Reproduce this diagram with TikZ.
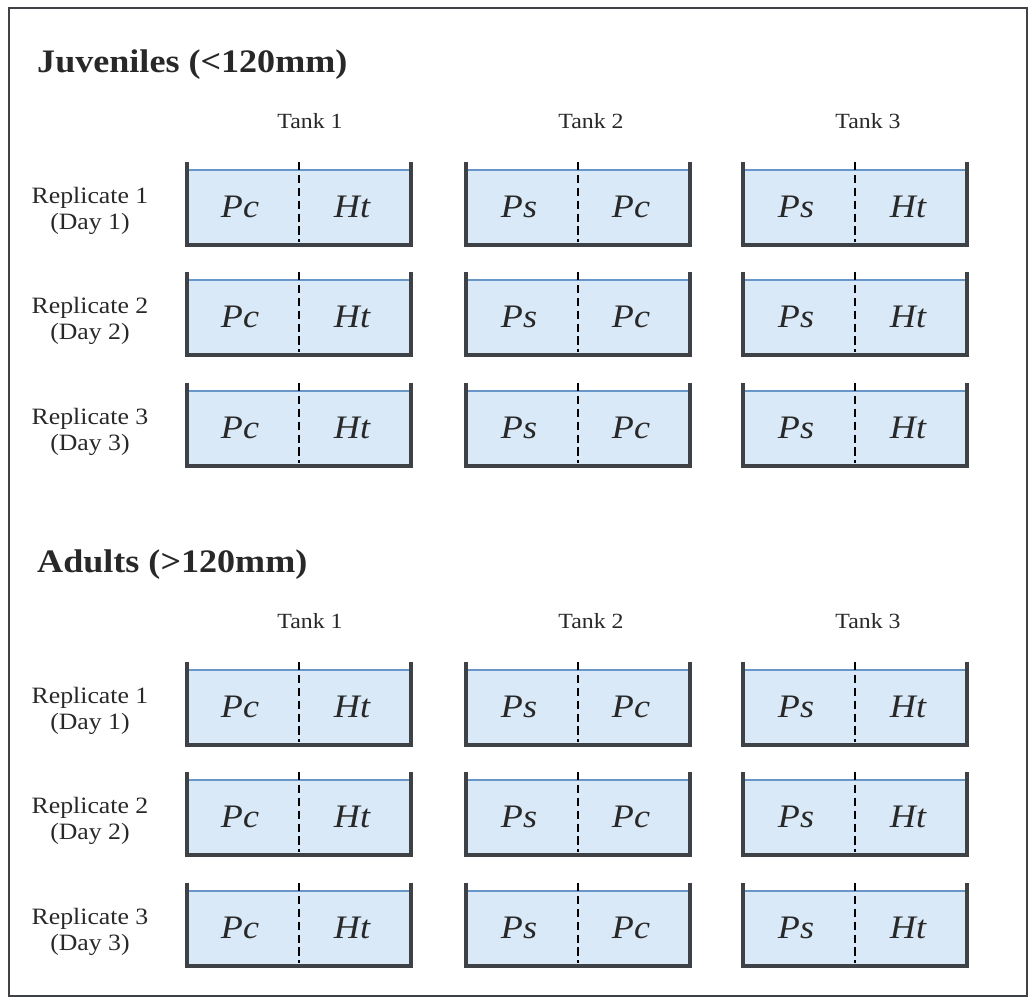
\documentclass[tikz,border=0pt]{standalone}
\usepackage{fontspec}
\setmainfont[FakeStretch=1.1]{Liberation Serif}
\usepackage{tikz}
\usetikzlibrary{positioning,calc}
\definecolor{waterblue}{RGB}{218,233,247}
\definecolor{surfaceblue}{RGB}{105,150,200}
\definecolor{wallgray}{RGB}{62,66,70}
\definecolor{inkgray}{RGB}{40,40,40}

\tikzset{
  grouptitle/.style={anchor=base west, inner sep=0pt, text=inkgray, font=\bfseries\fontsize{28}{30}\selectfont},
  tankhead/.style={anchor=base, inner sep=0pt, text=inkgray, font=\fontsize{18.5}{20}\selectfont},
  replab/.style={align=center, inner sep=0pt, text=inkgray, font=\fontsize{20}{22}\selectfont},
  water/.style={anchor=north west, fill=waterblue, minimum width=6.72cm, minimum height=2.25cm, inner sep=0pt, outer sep=0pt},
  surface/.style={draw=surfaceblue, line width=1pt},
  wall/.style={draw=wallgray, line width=3pt},
  divider/.style={draw=black, line width=1.4pt, dash pattern=on 7pt off 4pt},
  fishlab/.style={anchor=base, inner sep=0pt, text=inkgray, font=\itshape\fontsize{28}{30}\selectfont}
}

\begin{document}
\begin{tikzpicture}[x=0.03cm, y=-0.03cm]
  \useasboundingbox (0,0) rectangle (1030,999);
  \draw[draw=wallgray, line width=2.5pt] (9,8) rectangle (1027,996);

  \foreach \grp/\dy/\ttl in {juv/0/{Juveniles (<120mm)}, adu/500/{Adults (>120mm)}} {
    \node[grouptitle] (\grp-title) at (37,72+\dy) {\ttl};
    \foreach \k/\hx in {1/310, 2/591, 3/868}
      \node[tankhead] (\grp-head\k) at (\hx,128+\dy) {Tank \k};
    \foreach \r/\top in {1/162, 2/272, 3/383} {
      \node[replab] (\grp-rep\r) at (90,\top+\dy+49) {Replicate \r\\(Day \r)};
      % one tank: water, surface, walls, divider, the two species
      \foreach \k/\lx/\fa/\fb in {1/187/Pc/Ht, 2/466/Ps/Pc, 3/743/Ps/Ht} {
        \node[water] (\grp-t\r\k) at (\lx,\top+\dy+8) {};
        \draw[surface] (\grp-t\r\k.north west) -- (\grp-t\r\k.north east);
        \draw[wall] ([yshift=0.24cm]\grp-t\r\k.north west) -- (\grp-t\r\k.south west)
          -- (\grp-t\r\k.south east) -- ([yshift=0.24cm]\grp-t\r\k.north east);
        \draw[divider] ([yshift=0.24cm]\grp-t\r\k.north) -- ([yshift=0.1cm]\grp-t\r\k.south);
        \node[fishlab] (\grp-t\r\k-a) at (\lx+53,\top+\dy+55) {\fa};
        \node[fishlab] (\grp-t\r\k-b) at (\lx+165,\top+\dy+55) {\fb};
      }
    }
  }
\end{tikzpicture}
\end{document}
